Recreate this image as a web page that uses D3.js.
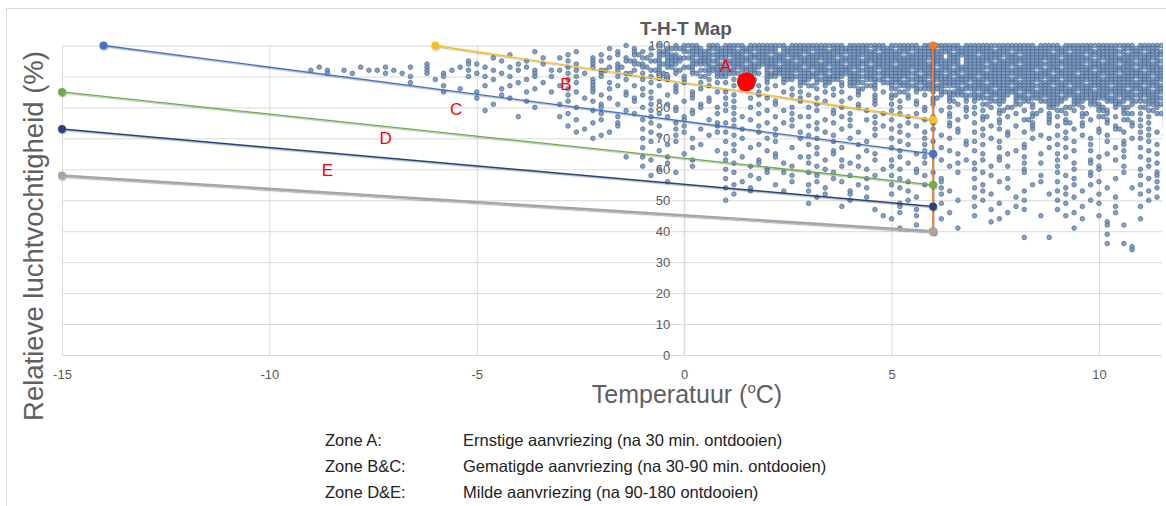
<!DOCTYPE html>
<html>
<head>
<meta charset="utf-8">
<script src="https://cdn.jsdelivr.net/npm/d3@7"></script>
<style>
  body { margin: 0; background: #fff; }
  svg { display: block; font-family: "Liberation Sans", Arial, sans-serif; }
</style>
</head>
<body>
<script>
// axis ticks
var xTicks = [-15, -10, -5, 0, 5, 10];
var yTicks = [0, 10, 20, 30, 40, 50, 60, 70, 80, 90, 100];

// zone boundary lines, start + end point (temperature, RH)
var lineNames = ['B/C', 'A/B', 'C/D', 'D/E', 'E', 'T-grens'];
var lineT  = [[-14, 6], [-6, 6], [-15, 6], [-15, 6], [-15, 6], [6, 6]];
var lineRH = [[100, 65], [100, 76], [85, 55], [73, 48], [58, 40], [100, 40]];
var lineColors = ['#4472c4', '#f5c02a', '#70ad47', '#264478', '#a5a5a5', '#ed7d31'];
var lineWidths = [1.3, 1.4, 1.3, 1.5, 2.4, 1.8];

// zone labels
var zoneNames = ['A', 'B', 'C', 'D', 'E'];
var zoneT  = [1.0, -2.85, -5.5, -7.2, -8.6];
var zoneRH = [93.5, 87.6, 79.4, 70.2, 59.8];

// current reading (big red dot)
var nowT = 1.5, nowRH = 88.3;

var legendZones = ['Zone A:', 'Zone B&C:', 'Zone D&E:'];
var legendTexts = ['Ernstige aanvriezing (na 30 min. ontdooien)',
                   'Gematigde aanvriezing (na 30-90 min. ontdooien)',
                   'Milde aanvriezing (na 90-180 ontdooien)'];

// measurements, one row per RH value. columns are 0.2 C bins starting at -9.0,
// in groups of 10 bins ('-' = empty group). digit = number of readings in the bin
var binStart = -9.0, binWidth = 0.2;
var scatterRows = [
 '100| - - - ........1. ..1.122.21 2212222122 2222122221 2221222212 2222222122 1222222221 2221',
 '99| - - - ......1..1 .1.2212122 2122221222 2212222122 1222212222 2212222222 2222122122 2212',
 '98| - - .......1.. ..1....1.1 1.21.22212 2221221222 1222222212 2212222122 2222122221 2122222212 1222',
 '97| - - ....1..... .1...1.1.2 .1221.2222 2212212221 2222122222 2122221222 1222212222 2221222122 2221',
 '96| - - ..1.....1. 1...1.1.1. 2.12221212 1222222122 2221221222 2222221212 2221222222 1222122222 2212',
 '95| - .........1 ...1..1... .1..11..21 .2122.2221 2221222212 2122222222 2222122212 2212222212 2222212221 2122',
 '94| - ....1....1 1....1..1. ..1.1..1.2 1.221.2212 2212221222 2222122122 1222222212 2122212222 2221222122 2212',
 '93| .1....1..1 ..1.1...1. .1..1.1... .1..1.12.. 2.12.21.22 1222122221 2212221222 2222212122 2222122212 1222222221 2221',
 '92| 1.1.1..11. 1...1..1.1 ..1..1.1.1 1.1..2.1.1 .21.2.1222 2122.12222 1222212212 2212222222 2122222122 2222122222 1222',
 '91| ..1..1...1 .1..1.1... 1..1...1.. .1.1.1..2. 1.2.1.2.12 22.2122212 2212221222 2221221212 2222222221 2212222122 2221',
 '90| - ..1...1..1 .1..1..1.1 ..1..1.1.. .1.1.1.2.2 1.21.21222 2122122212 2212222122 1222122222 2222212222 2122',
 '89| - .....1.... ..1...1... .1..1...1. 1..1.1..1. .1.2.1.212 1222.21221 2122122222 2222212212 1222222221 2222',
 '88| - ..1....... .....1..1. ..1.1.1... .1...1.1.1 1..1.1.1.2 .12.122.12 2212212221 2122222122 2221222222 2212',
 '87| - ......1... .1..1..... 1...1..1.1 ..1.1...1. .1..1.1..1 2.1.12.21. 1221222212 2222122221 2122221222 1222',
 '86| - ........1. ...1...1.. .1..1.1... 1...1..1.. ..1..1..1. .1.1..2.1. 2.12221.22 2212222122 2222122212 2122',
 '85| - ......1... 1.....1..1 ..1.1...1. .1..1.1..1 1...1..1.1 ..1.1.1..1 .2.1.1222. 1222212222 2212222221 2221',
 '84| - - ...1...... .1...1..1. 1..1..1... .1..1...1. 1..1..1.1. 2.1.1.1222 2122121222 1222221222 2212',
 '83| - - 1...1..... ...1..1..1 .1....1.1. 1..1.1...1 .1...1..1. 1.1..2.1.1 2212.22212 2122222121 1222',
 '82| - - ......1... .1..1....1 ..1..1..1. .1....1..1 ..1.1...1. .1.1.1.2.1 1.22.12.22 2.212.2212 2212',
 '81| - - ..1....... 1....1.1.. .1.1...1.. 1...1.1... .1....1.1. 1..1.1..1. .2.1.2.1.2 1.2.21.2.1 .221',
 '80| - - .......1.. ..1..1.... 1...1..1.1 .1.1....1. 1...1.1... .1..1..1.1 1.1.2..1.2 .2.1.2.12. 2.12',
 '79| - - .1........ ....1...1. .1..1.1... 1....1.1.. .1.1...1.. 1...1.1..1 .1.2..1.1. 2.1..21.1. .2.1',
 '78| - - - .1...1...1 ..1...1..1 .1..1...1. ...1.1...1 .1.1...1.. 1..1.1.2.1 .1.2..1.21 1.2.',
 '77| - - .....1.... 1......1.. .1.1.1.... ..1...1..1 1...1...1. ..1..1.1.1 .2..1..1.1 1..1.2.1.. .1.1',
 '76| - - - ..1..1.... 1....1..1. .1.1....1. ..1..1.1.. 1...1...1. .1.1..2..1 .1..1.1.2. 1..1',
 '75| - - - ....1..1.. .1..1....1 1....1.1.. .1.1....1. ..1..1.1.. 1..1...1.1 .2.1..1..1 .1.2',
 '74| - - - .1.....1.. ..1..1...1 .1..1...1. 1....1...1 .1.1...1.. ..1..1.1.. 1..1...1.1 1..1',
 '73| - - - ...1...... 1...1..1.. ..1...1... .1..1...1. 1....1..1. .1.1...1.. ..1..1.2.. .1..',
 '72| - - - ..1...1... .1...1...1 1...1....1 ..1...1... .1..1...1. 1...1.1... .1...1..1. 1.1.',
 '71| - - - .....1.... ..1.1...1. .1....1... 1..1....1. ..1...1... .1..1...1. 1..1..1... .1.1',
 '70| - - - ....1..... 1.....1... ..1..1...1 .1...1.... 1...1..1.. ..1....1.1 .1..1....1 1...',
 '69| - - - - .1..1..... 1.....1... ...1...1.. .1...1...1 1..1...... ..1...1.1. .1..',
 '68| - - - - ...1...1.. .1..1..... 1.....1... ..1.1....1 .1....1... 1...1...1. ..1.',
 '67| - - - - 1.....1... ...1....1. .1..1..... 1.....1... ...1..1..1 .1.....1.. 1...',
 '66| - - - - ..1......1 .1...1.... ...1...1.. .1..1..1.. 1....1.... ..1.1...1. .1..',
 '65| - - - - .....1.... 1.....1... .1.1....1. ...1....1. .1..1...1. 1.....1... ..1.',
 '64| - - - ........1. 1..1...... ..1...1..1 1.....1... .1..1..... ...1..1... .1...1..1. 1...',
 '63| - - - - .1....1... 1...1..... ..1.1...1. 1.....1..1 .1.1...... 1...1..1.. .1..',
 '62| - - - - ...1...... .1..1..1.. 1....1.... ..1.1...1. 1.....1.1. ..1.1..... ..1.',
 '61| - - - - 1.....1... ...1....1. .1..1.1... 1......1.. ..1.1..... 1....1..1. .1..',
 '60| - - - - ..1....... 1....1.... ..1....1.1 .1.1...... 1.....1... ..1..1.... 1...',
 '59| - - - - ....1..... .1...1.1.. 1..1...... ...1.1..1. .1....1... 1...1...1. ..1.',
 '58| - - - - .1........ ...1....1. .1...1..1. 1...1..... ..1.....1. .1..1..... 1.1.',
 '57| - - - - - 1...1..... ...1...1.. .1....1... 1...1..... ..1....1.. .1..',
 '56| - - - - ...1...... ..1.....1. .1..1..... ..1...1... ...1....1. 1....1.... ..1.',
 '55| - - - - - .1....1... 1.....1... 1...1..... .1.....1.. ..1.1..... 1...',
 '54| - - - - - 1..1...... ..1....1.. .1....1... 1...1..... .1....1..1 ..1.',
 '53| - - - - - ...1...1.. 1....1.... ..1....1.. .1....1... 1..1...... .1..',
 '52| - - - - - .1........ ..1..1.... 1.....1... ..1......1 .1...1.... 1...',
 '51| - - - - - - .1.....1.. ...1...... 1....1.... ..1....1.. ..1.',
 '50| - - - - - 1......... .....1.... ..1.....1. .1....1... 1...1..... .1..',
 '49| - - - - - - 1......... .1....1... ...1...... .1...1.... -',
 '48| - - - - - - ....1..... .1........ 1....1.... ...1...1.. 1...',
 '47| - - - - - - ........1. ...1...... ..1...1... 1......... -',
 '46| - - - - - - - .1.....1.. ....1..... ..1....1.. -',
 '45| - - - - - - .........1 ...1...... 1.......1. .1...1.... -',
 '44| - - - - - - - 1.....1... ...1...... ...1...... 1...',
 '43| - - - - - - - - ..1....... ......1... -',
 '42| - - - - - - - ...1...... - ......1.1. -',
 '41| - - - - - - - .1......1. - ..1....... -',
 '39| - - - - - - - - - ......1... -',
 '38| - - - - - - - - ......1..1 - -',
 '36| - - - - - - - - - ......1.1. -',
 '35| - - - - - - - - - .........1 -',
 '34| - - - - - - - - - .........1 -'
];

var W = 1166, H = 506;

var svg = d3.select('body').append('svg')
    .attr('width', W)
    .attr('height', H);

var x = d3.scaleLinear().domain([-15, 11.52]).range([62, 1162]);
var y = d3.scaleLinear().domain([0, 100]).range([355, 45.5]);

// outer frame
svg.append('rect')
    .attr('x', 6.5).attr('y', 8.5)
    .attr('width', 1180).attr('height', 520)
    .attr('fill', 'none')
    .attr('stroke', '#d9d9d9');

// grid
svg.append('g')
    .attr('transform', 'translate(0,' + y(0) + ')')
    .call(d3.axisBottom(x).tickValues(xTicks).tickSize(-(y(0) - y(100))).tickFormat(''))
    .call(function(g) { g.select('.domain').remove(); })
    .selectAll('line').attr('stroke', '#d9d9d9');

svg.append('g')
    .attr('transform', 'translate(' + x.range()[0] + ',0)')
    .call(d3.axisLeft(y).tickValues(yTicks).tickSize(-(x.range()[1] - x.range()[0])).tickFormat(''))
    .call(function(g) { g.select('.domain').remove(); })
    .selectAll('line').attr('stroke', '#d9d9d9');

svg.append('line')
    .attr('x1', x(0)).attr('x2', x(0))
    .attr('y1', y(0)).attr('y2', y(100))
    .attr('stroke', '#d9d9d9');

// tick labels (plain hyphen minus, like the original)
var plain = function(d) { return String(d); };

var xAx = svg.append('g')
    .attr('transform', 'translate(0,' + y(0) + ')')
    .call(d3.axisBottom(x).tickValues(xTicks).tickFormat(plain).tickSize(0).tickPadding(15));
xAx.select('.domain').remove();
xAx.selectAll('text').attr('fill', '#595959').attr('font-size', 13)
    .attr('font-family', '"Liberation Sans", Arial, sans-serif');

var yAx = svg.append('g')
    .attr('transform', 'translate(' + x(0) + ',0)')
    .call(d3.axisLeft(y).tickValues(yTicks).tickFormat(plain).tickSize(0).tickPadding(14));
yAx.select('.domain').remove();
yAx.selectAll('text').attr('fill', '#595959').attr('font-size', 13)
    .attr('font-family', '"Liberation Sans", Arial, sans-serif');

// scatter
var pts = [];
scatterRows.forEach(function(row) {
  var parts = row.split('|');
  var rh = +parts[0];
  parts[1].trim().split(/\s+/).forEach(function(grp, k) {
    if (grp === '-') return;
    for (var j = 0; j < grp.length; j++) {
      var n = grp[j] === '2' ? 2 : (grp[j] === '1' ? 1 : 0);
      for (var m = 0; m < n; m++) {
        pts.push([binStart + binWidth * (k * 10 + j) + m * 0.1, rh]);
      }
    }
  });
});

svg.append('clipPath').attr('id', 'plotclip')
  .append('rect')
    .attr('x', x.range()[0]).attr('y', 30)
    .attr('width', x.range()[1] - x.range()[0] + 1).attr('height', y(0) - 30);

svg.append('g')
    .attr('clip-path', 'url(#plotclip)')
  .selectAll('circle')
    .data(pts)
    .enter().append('circle')
    .attr('cx', function(d) { return x(d[0]); })
    .attr('cy', function(d) { return y(d[1]); })
    .attr('r', 2.3)
    .attr('fill', '#7797c0')
    .attr('stroke', '#47668d')
    .attr('stroke-width', 0.8)
    .attr('opacity', 0.9);

// soft shadow under the zone lines
var defs = svg.append('defs');
defs.append('filter').attr('id', 'shadow')
    .attr('x', '-5%').attr('y', '-50%').attr('width', '110%').attr('height', '200%')
  .append('feDropShadow')
    .attr('dx', 0.6).attr('dy', 1.2)
    .attr('stdDeviation', 0.7)
    .attr('flood-color', '#000')
    .attr('flood-opacity', 0.3);

var line = d3.line()
    .x(function(d) { return x(d[0]); })
    .y(function(d) { return y(d[1]); });

var drawOrder = [5, 4, 3, 2, 0, 1];
drawOrder.forEach(function(i) {
  var seg = lineT[i].map(function(t, k) { return [t, lineRH[i][k]]; });
  var g = svg.append('g').attr('class', 'zone-line').attr('filter', 'url(#shadow)');
  g.append('path')
      .datum(seg)
      .attr('d', line)
      .attr('fill', 'none')
      .attr('stroke', lineColors[i])
      .attr('stroke-width', lineWidths[i]);
  g.selectAll('circle')
      .data(seg)
      .enter().append('circle')
      .attr('cx', function(d) { return x(d[0]); })
      .attr('cy', function(d) { return y(d[1]); })
      .attr('r', 4)
      .attr('fill', lineColors[i]);
});

// zone letters
svg.selectAll('.zone')
    .data(zoneNames)
    .enter().append('text')
    .attr('class', 'zone')
    .attr('x', function(d, i) { return x(zoneT[i]); })
    .attr('y', function(d, i) { return y(zoneRH[i]); })
    .attr('dy', '0.35em')
    .attr('text-anchor', 'middle')
    .attr('font-size', 17)
    .attr('fill', '#ff0000')
    .text(function(d) { return d; });

// current reading
svg.append('circle')
    .attr('cx', x(nowT))
    .attr('cy', y(nowRH))
    .attr('r', 9.5)
    .attr('fill', '#ff0000');

// title
svg.append('text')
    .attr('x', 686).attr('y', 35)
    .attr('text-anchor', 'middle')
    .attr('font-size', 19)
    .attr('font-weight', 'bold')
    .attr('fill', '#595959')
    .text('T-H-T Map');

// axis titles
svg.append('text')
    .attr('transform', 'translate(43,236) rotate(-90)')
    .attr('text-anchor', 'middle')
    .attr('font-size', 27.5)
    .attr('fill', '#606060')
    .text('Relatieve luchtvochtigheid (%)');

var xt = svg.append('text')
    .attr('x', 687).attr('y', 403)
    .attr('text-anchor', 'middle')
    .attr('font-size', 25)
    .attr('fill', '#606060');
xt.append('tspan').text('Temperatuur (');
xt.append('tspan').attr('font-size', 15).attr('dy', -10).text('o');
xt.append('tspan').attr('dy', 10).text('C)');

// legend below the chart
var leg = svg.selectAll('.legend')
    .data(legendZones)
    .enter().append('g')
    .attr('class', 'legend')
    .attr('transform', function(d, i) { return 'translate(0,' + (446 + i * 26) + ')'; });

leg.append('text')
    .attr('x', 325)
    .attr('font-size', 16.5)
    .attr('fill', '#222')
    .text(function(d) { return d; });

leg.append('text')
    .attr('x', 463)
    .attr('font-size', 16.5)
    .attr('fill', '#222')
    .text(function(d, i) { return legendTexts[i]; });
</script>
</body>
</html>
